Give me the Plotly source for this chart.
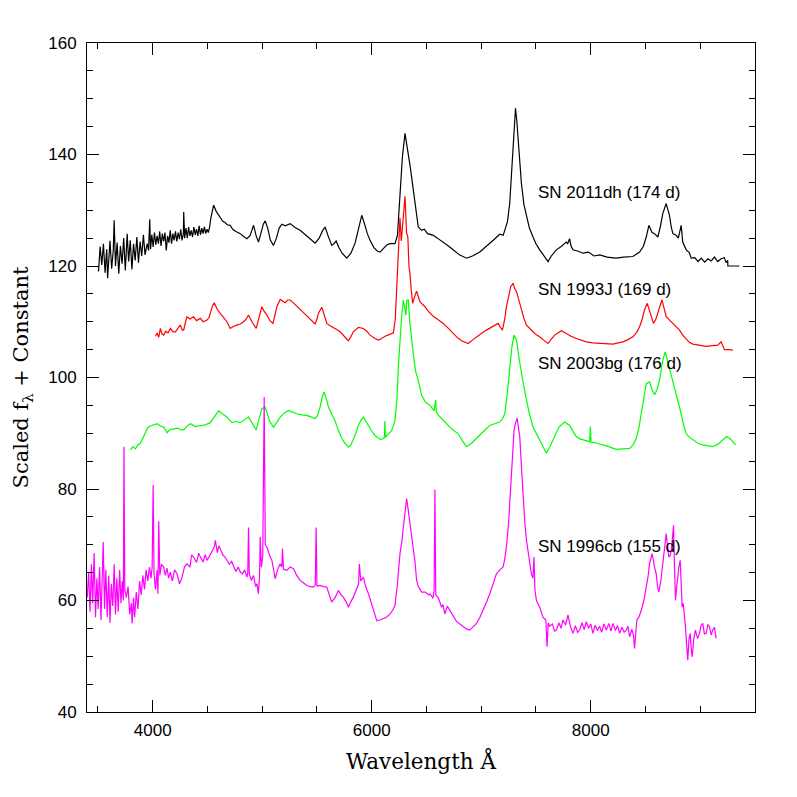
"""
Late-time spectra of stripped-envelope supernovae, offset by a constant.
"""
import plotly.graph_objects as go

# SN 2011dh (174 d)
W_2011DH = [3505, 3520, 3535, 3550, 3565, 3580, 3588, 3595, 3610, 3625, 3640, 3648, 3660, 3675, 3690,
            3705, 3720, 3735, 3750, 3767, 3780, 3795, 3810, 3825, 3840, 3855, 3870, 3885, 3900, 3915,
            3930, 3950, 3962, 3973, 3980, 3992, 4004, 4016, 4028, 4040, 4052, 4064, 4076, 4088, 4100,
            4112, 4124, 4136, 4148, 4160, 4172, 4184, 4196, 4208, 4220, 4232, 4244, 4256, 4268, 4280,
            4283, 4292, 4304, 4316, 4328, 4340, 4352, 4364, 4376, 4388, 4400, 4412, 4424, 4436, 4448,
            4460, 4472, 4484, 4496, 4508, 4520,
            4530, 4556, 4580, 4600, 4617, 4640, 4660, 4680, 4708, 4730, 4760, 4800, 4830, 4860,
            4890, 4921, 4945, 4966, 4990, 5010, 5027, 5050, 5075, 5103, 5130, 5155, 5180, 5210, 5255,
            5300, 5346, 5390, 5437, 5483, 5520, 5550, 5574, 5600, 5635, 5655, 5675, 5700, 5730, 5772,
            5810, 5848, 5880, 5909, 5935, 5960, 5985, 6020, 6050, 6076, 6110, 6140, 6167, 6212, 6235,
            6258, 6280, 6304, 6315, 6334, 6350, 6379, 6410, 6425, 6456, 6480, 6510, 6562, 6600, 6653,
            6700, 6744, 6800, 6866, 6920, 6987, 7030, 7078, 7120, 7169, 7200, 7215, 7240, 7260, 7280,
            7291, 7313, 7325, 7337, 7352, 7367, 7390, 7413, 7440, 7473, 7500, 7534, 7570, 7610, 7640,
            7686, 7730, 7777, 7790, 7807, 7820, 7838, 7880, 7929, 7980, 8030, 8081, 8150, 8233, 8300,
            8385, 8446, 8480, 8507, 8531, 8560, 8583, 8613, 8635, 8658, 8689, 8705, 8719, 8735, 8750,
            8780, 8800, 8826, 8840, 8872, 8900, 8917, 8950, 8980, 9010, 9040, 9070, 9100, 9130, 9160,
            9190, 9220, 9236, 9251, 9252, 9357]
F_2011DH = [119.0, 123.5, 120.2, 124.0, 118.8, 123.0, 117.8, 120.5, 124.5, 119.5, 122.8, 128.2, 120.0,
            124.2, 118.6, 123.6, 120.4, 125.0, 119.2, 125.8, 120.8, 124.6, 119.4, 124.0, 121.0, 125.2,
            120.6, 124.4, 121.8, 125.6, 122.0, 124.0, 122.8, 128.4, 123.0, 125.6, 123.4, 126.0, 123.8,
            125.4, 124.0, 126.2, 123.6, 125.8, 124.4, 126.0, 122.8, 125.4, 124.2, 126.4, 124.0, 125.8,
            124.6, 126.2, 124.4, 126.0, 124.8, 126.6, 124.6, 125.8, 129.7, 125.0, 126.8, 125.0, 127.0,
            125.4, 126.4, 125.2, 127.0, 125.6, 126.6, 125.4, 127.2, 125.6, 126.8, 125.8, 127.0, 125.8,
            126.6, 126.0, 127.0,
            128.5, 130.9, 129.8, 129.2,
            128.8, 128.0, 127.8, 127.4, 127.3, 126.6, 126.2, 125.8, 125.3, 124.9, 125.5, 127.3, 125.4,
            124.3, 126.0, 127.5, 128.1, 126.8, 124.6, 123.7, 125.0, 126.8, 127.5, 127.2, 127.6, 126.9,
            126.4, 125.6, 124.9, 124.1, 125.0, 126.3, 127.0, 125.5, 123.7, 124.0, 124.5, 123.3, 122.3,
            121.4, 122.3, 124.1, 127.0, 129.1, 127.5, 125.8, 124.6, 123.3, 122.7, 122.5, 123.2, 123.8,
            124.0, 124.0, 125.5, 131.8, 139.5, 143.8, 142.5, 140.6, 138.0, 133.8, 128.5, 127.0, 126.4,
            126.6, 125.8, 125.5, 125.0, 124.3, 123.6, 122.9, 122.0, 121.4, 121.8, 122.5, 123.2, 124.1,
            124.8, 125.7, 125.5, 126.4, 128.0, 131.2, 138.0, 142.6, 148.3, 146.0, 142.6, 138.5, 134.8,
            131.0, 128.8, 126.8, 125.2, 124.0, 122.9, 121.8, 120.8, 121.8, 122.9, 123.5, 124.3, 124.0,
            124.9, 123.6, 122.9, 122.7, 122.3, 122.5, 121.8, 122.0, 121.6, 121.4, 121.6, 121.7, 122.5,
            123.5, 125.2, 127.3, 126.0, 125.8, 125.2, 127.0, 129.4, 131.2, 130.0, 129.1, 127.0, 125.8,
            125.5, 125.0, 127.3, 124.3, 122.9, 122.4, 121.4, 121.5, 120.8, 121.4, 120.7, 121.3, 120.9,
            121.6, 120.8, 121.3, 121.5, 120.6, 121.0, 120.0, 120.0]

# SN 1993J (169 d)
W_1993J = [4025, 4040, 4055, 4070, 4085, 4100, 4120, 4140, 4162, 4185, 4207, 4230, 4252, 4270, 4283,
           4300, 4313, 4340, 4374, 4400, 4435, 4460, 4496, 4515, 4526, 4545, 4562, 4590, 4617, 4650,
           4678, 4708, 4740, 4769, 4800, 4830, 4850, 4875, 4906, 4945, 4970, 4997, 5020, 5043, 5070,
           5098, 5120, 5134, 5164, 5190, 5210, 5232, 5255, 5290, 5316, 5360, 5407, 5450, 5483, 5500,
           5513, 5544, 5565, 5590, 5620, 5650, 5680, 5711, 5750, 5787, 5810, 5832, 5878, 5924, 5955,
           5985, 6030, 6061, 6090, 6122, 6160, 6198, 6215, 6228, 6245, 6258, 6270, 6285, 6304, 6318,
           6330, 6340, 6349, 6362, 6374, 6392, 6410, 6440, 6486, 6520, 6562, 6610, 6653, 6700, 6744,
           6780, 6820, 6881, 6920, 6957, 7000, 7048, 7090, 7124, 7154, 7175, 7194, 7215, 7230, 7250,
           7269, 7291, 7305, 7322, 7345, 7367, 7390, 7413, 7440, 7473, 7500, 7534, 7570, 7610, 7640,
           7671, 7700, 7732, 7777, 7820, 7868, 7910, 7960, 8020, 8081, 8140, 8203, 8250, 8294, 8340,
           8385, 8420, 8446, 8470, 8491, 8516, 8530, 8543, 8573, 8595, 8613, 8630, 8650, 8670, 8689,
           8720, 8750, 8780, 8811, 8840, 8872, 8900, 8932, 8990, 9054, 9110, 9160, 9191, 9205, 9221,
           9260, 9297]
F_1993J = [107.4, 108.0, 107.2, 108.8, 107.8, 107.6, 108.3, 108.0, 108.8, 108.2, 108.2, 108.9, 109.4,
           108.5, 108.5, 110.0, 110.9, 110.5, 110.9, 110.2, 110.6, 110.0, 110.3, 110.8, 111.5, 112.8,
           113.4, 112.2, 111.5, 110.6, 110.0, 108.8, 109.2, 109.4, 109.6, 110.0, 110.4, 111.2, 110.0,
           108.8, 110.8, 112.7, 111.8, 111.2, 110.2, 109.7, 111.5, 112.7, 114.0, 113.6, 113.4, 113.9,
           113.9, 113.3, 112.8, 112.0, 111.2, 110.3, 109.6, 110.5, 111.5, 112.6, 111.2, 109.7, 109.3,
           109.0, 108.6, 108.2, 107.4, 106.6, 107.3, 108.2, 109.0, 108.8, 108.3, 107.6, 107.0, 106.7,
           107.0, 107.4, 107.7, 108.0, 110.5, 116.0, 122.0, 128.6, 124.5, 127.5, 132.5, 126.0, 125.2,
           120.0, 118.7, 115.5, 113.3, 114.5, 115.5, 113.6, 112.7, 111.8, 111.0, 110.3, 109.7, 108.8,
           107.9, 107.2, 106.6, 106.1, 106.7, 107.3, 107.9, 108.5, 109.0, 109.4, 109.7, 109.0, 108.5,
           110.5, 112.7, 114.5, 116.3, 116.9, 116.0, 115.4, 113.6, 112.1, 110.6, 109.4, 108.8, 108.2,
           107.7, 107.3, 106.7, 106.1, 106.9, 107.6, 108.0, 108.4, 107.9, 107.4, 107.0, 106.7, 106.4,
           106.2, 106.1, 106.0, 106.0, 106.2, 106.4, 106.8, 107.3, 108.1, 109.1, 110.5, 112.1, 113.3,
           112.4, 111.2, 109.7, 110.5, 111.5, 112.8, 113.9, 112.4, 110.9, 110.3, 109.7, 109.2, 108.5,
           107.6, 106.8, 106.3, 106.0, 105.8, 105.6, 105.7, 105.8, 106.4, 105.6, 105.0, 105.0, 104.9]

# SN 2003bg (176 d)
W_2003BG = [3797, 3820, 3842, 3865, 3888, 3910, 3934, 3955, 3979, 4010, 4040, 4070, 4100, 4131, 4160,
            4192, 4230, 4260, 4283, 4315, 4344, 4390, 4435, 4480, 4526, 4560, 4602, 4640, 4678, 4723,
            4760, 4800, 4840, 4875, 4906, 4945, 4970, 4997, 5027, 5067, 5103, 5130, 5164, 5200, 5240,
            5280, 5316, 5360, 5407, 5450, 5483, 5505, 5529, 5548, 5565, 5585, 5605, 5635, 5665, 5695,
            5726, 5755, 5787, 5810, 5832, 5855, 5878, 5900, 5924, 5945, 5970, 6000, 6030, 6076, 6100,
            6115, 6120, 6125, 6150, 6182, 6212, 6230, 6243, 6258, 6273, 6289, 6300, 6313, 6319, 6334,
            6349, 6364, 6379, 6400, 6425, 6456, 6490, 6532, 6570, 6584, 6590, 6620, 6653, 6680, 6714,
            6750, 6790, 6830, 6866, 6911, 6950, 6987, 7030, 7078, 7120, 7169, 7195, 7215, 7240, 7260,
            7280, 7300, 7322, 7345, 7367, 7390, 7413, 7440, 7473, 7500, 7534, 7565, 7595, 7625, 7656,
            7685, 7710, 7762, 7807, 7840, 7868, 7900, 7929, 7990, 7997, 8003, 8040, 8081, 8150, 8233,
            8300, 8355, 8390, 8416, 8440, 8461, 8485, 8507, 8537, 8560, 8583, 8605, 8628, 8658, 8680,
            8713, 8740, 8765, 8795, 8826, 8850, 8872, 8900, 8932, 8980, 9023, 9070, 9114, 9160, 9205,
            9240, 9266, 9295, 9321]
F_2003BG = [87.0, 87.6, 87.2, 87.9, 88.2, 89.2, 90.3, 91.0, 91.3, 91.5, 91.7, 91.3, 91.1, 90.1, 90.7,
            90.8, 90.9, 90.6, 90.6, 91.3, 91.7, 91.2, 91.4, 91.5, 91.9, 92.8, 94.0, 93.4, 92.9, 91.9,
            92.1, 91.9, 92.4, 92.9, 91.9, 90.6, 92.5, 94.4, 94.7, 92.2, 91.1, 91.9, 92.9, 93.6, 94.1,
            93.8, 93.5, 93.3, 93.2, 92.9, 92.6, 93.2, 94.7, 96.5, 97.4, 96.2, 94.7, 93.4, 92.2, 90.6,
            89.1, 88.2, 87.5, 87.9, 88.8, 90.0, 91.4, 92.3, 92.9, 92.3, 91.4, 90.4, 89.6, 88.9, 89.0,
            89.2, 92.2, 89.3, 89.8, 90.5, 92.2, 96.0, 101.9, 107.0, 110.9, 113.9, 112.5, 111.2, 113.8,
            113.9, 109.7, 106.7, 104.3, 101.2, 99.5, 96.8, 95.6, 95.0, 94.0, 96.0, 93.8, 93.0, 92.3,
            91.8, 91.1, 90.5, 89.9, 88.6, 87.6, 88.2, 88.9, 89.6, 90.5, 91.4, 91.7, 92.0, 92.6, 93.5,
            97.5, 101.9, 105.5, 107.6, 106.7, 103.5, 100.7, 98.3, 96.0, 93.5, 91.1, 90.0, 88.8, 87.6,
            86.4, 87.5, 88.8, 90.0, 91.1, 92.0, 91.4, 90.3, 89.4, 89.0, 88.8, 88.5, 91.2, 88.4, 88.3,
            88.1, 87.7, 87.1, 87.2, 87.3, 88.0, 89.1, 91.0, 93.5, 96.5, 98.9, 99.2, 97.8, 96.9, 97.8,
            99.5, 103.1, 104.6, 102.2, 100.0, 98.3, 95.8, 93.5, 91.3, 89.9, 89.3, 88.9, 88.2, 87.9,
            87.7, 87.6, 88.0, 88.8, 89.4, 89.1, 88.6, 87.9]

# SN 1996cb (155 d)
W_1996CB = [3402, 3415, 3428, 3440, 3452, 3465, 3478, 3490, 3502, 3515, 3528, 3540, 3548, 3560, 3572,
            3585, 3598, 3610, 3622, 3635, 3648, 3660, 3672, 3685, 3698, 3710, 3722, 3732, 3738, 3745,
            3760, 3775, 3790, 3805, 3812, 3825, 3835, 3850, 3865, 3880, 3895, 3910, 3925, 3940, 3955,
            3970, 3985, 3995, 4004, 4012, 4025, 4040, 4048, 4055, 4065, 4080, 4100, 4115, 4130, 4145,
            4161, 4180, 4200, 4222, 4245, 4268, 4290, 4313, 4340, 4355, 4374, 4400, 4420, 4435, 4460,
            4480, 4496, 4520, 4541, 4560, 4572, 4590, 4605, 4617, 4640, 4660, 4678, 4700, 4720, 4739,
            4760, 4780, 4800, 4820, 4840, 4860, 4868, 4875, 4882, 4900, 4920, 4940, 4952, 4965, 4975,
            4982, 4992, 5005, 5018, 5028, 5043, 5065, 5088, 5105, 5118, 5140, 5164, 5180, 5185, 5195,
            5225, 5255, 5286, 5315, 5346, 5375, 5407, 5440, 5468, 5485, 5492, 5500, 5529, 5560, 5590,
            5612, 5635, 5665, 5696, 5720, 5741, 5765, 5787, 5810, 5832, 5863, 5880, 5887, 5900, 5924,
            5945, 5970, 5995, 6015, 6046, 6075, 6106, 6135, 6167, 6190, 6212, 6235, 6258, 6275, 6289,
            6305, 6319, 6335, 6349, 6364, 6379, 6395, 6410, 6425, 6456, 6490, 6520, 6532, 6560, 6570,
            6577, 6585, 6608, 6625, 6638, 6650, 6668, 6690, 6714, 6745, 6775, 6805, 6836, 6865, 6896,
            6925, 6957, 6988, 7018, 7048, 7078, 7110, 7139, 7170, 7200, 7215, 7230, 7250, 7267, 7285,
            7300, 7315, 7328, 7340, 7352, 7367, 7382, 7398, 7413, 7435, 7458, 7472, 7482, 7490, 7504,
            7534, 7564, 7590, 7601, 7612, 7625, 7650, 7670, 7686, 7710, 7728, 7747, 7770, 7792, 7815,
            7838, 7860, 7880, 7899, 7920, 7940, 7960, 7980, 8000, 8020, 8040, 8060, 8081, 8100, 8120,
            8142, 8165, 8185, 8203, 8225, 8245, 8263, 8285, 8305, 8324, 8340, 8355, 8375, 8390, 8400,
            8410, 8421, 8440, 8461, 8485, 8507, 8525, 8537, 8561, 8580, 8598, 8610, 8622, 8640, 8658,
            8675, 8689, 8700, 8713, 8725, 8735, 8745, 8756, 8765, 8774, 8785, 8795, 8805, 8817, 8826,
            8835, 8845, 8856, 8866, 8876, 8886, 8897, 8908, 8917, 8926, 8940, 8956, 8975, 8993, 9008,
            9023, 9038, 9054, 9070, 9084, 9100, 9114, 9130, 9145]
F_1996CB = [60.5, 65.0, 58.0, 66.5, 59.5, 68.5, 57.0, 64.0, 58.5, 66.0, 56.5, 63.5, 70.5, 58.5, 65.5,
            57.0, 64.5, 56.0, 63.0, 59.0, 66.5, 57.5, 64.0, 58.0, 65.5, 59.5, 63.5, 60.0, 87.6, 62.0,
            60.5, 62.5, 57.5, 59.5, 55.9, 60.5, 57.0, 61.5, 58.5, 63.5, 61.0, 64.5, 62.0, 65.5, 63.5,
            66.0, 64.0, 66.0, 80.7, 65.0, 62.0, 65.4, 61.2, 74.2, 64.5, 66.5, 66.0, 64.5, 65.8, 64.0,
            65.1, 63.5, 65.5, 64.8, 63.0, 64.2, 66.0, 66.6, 66.0, 68.2, 67.8, 66.8, 68.5, 67.8, 66.9,
            68.2, 67.2, 68.0, 68.7, 69.5, 70.8, 68.6, 69.8, 69.3, 68.2, 67.8, 67.2, 66.5, 67.0, 66.0,
            65.2, 66.0, 65.1, 64.8, 65.5, 64.2, 65.0, 73.1, 64.8, 63.6, 64.5, 62.5, 63.0, 61.2, 64.0,
            71.4, 66.0, 68.0, 96.5, 70.0, 69.6, 68.2, 67.2, 65.5, 63.9, 65.5, 66.6, 66.0, 69.3, 65.6,
            65.4, 66.0, 65.7, 64.5, 63.6, 63.2, 62.7, 62.5, 62.4, 62.8, 73.1, 62.6, 62.7, 62.5, 62.4,
            61.0, 59.7, 60.5, 61.8, 61.0, 60.6, 59.8, 58.8, 59.8, 60.6, 62.1, 63.0, 66.6, 63.5, 64.2,
            62.5, 61.2, 59.5, 58.2, 56.4, 56.5, 56.7, 57.0, 57.6, 58.2, 59.1, 63.0, 68.4, 70.5, 73.2,
            76.5, 78.3, 76.0, 73.8, 71.0, 69.6, 67.0, 63.6, 62.5, 61.5, 61.5, 61.0, 61.2, 60.4, 62.0,
            79.9, 61.0, 60.5, 59.5, 58.8, 59.3, 57.6, 59.0, 58.2, 57.2, 56.2, 55.8, 55.4, 54.9, 54.7,
            55.2, 55.9, 57.0, 58.2, 59.7, 61.2, 63.0, 64.8, 65.5, 66.0, 67.5, 69.6, 74.0, 79.2, 86.0,
            90.6, 92.0, 92.7, 91.0, 89.4, 84.0, 78.6, 74.0, 70.8, 67.5, 64.8, 64.0, 67.8, 62.0, 60.0,
            58.8, 57.0, 56.5, 51.7, 56.0, 55.4, 55.8, 54.5, 54.7, 56.0, 55.0, 56.5, 55.6, 57.4, 55.3,
            54.1, 55.5, 54.3, 54.7, 56.0, 54.8, 56.2, 55.0, 55.8, 54.1, 55.6, 54.6, 55.4, 54.3, 55.8,
            54.7, 55.9, 54.5, 55.9, 54.6, 55.5, 54.1, 55.2, 54.3, 54.7, 55.4, 53.5, 54.8, 53.8, 51.4,
            54.0, 56.5, 57.0, 58.2, 60.0, 62.4, 64.5, 66.6, 68.4, 66.2, 64.8, 62.5, 61.5, 63.5, 66.6,
            69.5, 72.0, 70.0, 67.8, 68.0, 69.0, 71.0, 73.5, 66.0, 60.0, 62.5, 64.8, 66.0, 67.2, 62.0,
            58.8, 59.5, 57.6, 55.0, 52.0, 49.3, 53.0, 54.1, 51.5, 49.9, 53.0, 54.7, 53.2, 54.1, 55.5,
            55.9, 54.0, 54.1, 55.7, 55.3, 53.8, 54.7, 55.2, 53.2]

LABELS = ['SN 2011dh (174 d)', 'SN 1993J (169 d)', 'SN 2003bg (176 d)', 'SN 1996cb (155 d)']
LABEL_X = [7500, 7500, 7500, 7500]
LABEL_Y = [133.1, 115.7, 102.6, 69.7]

SERIES = [
    (W_2011DH, F_2011DH, 'black'),
    (W_1993J, F_1993J, '#ff0000'),
    (W_2003BG, F_2003BG, '#00ff00'),
    (W_1996CB, F_1996CB, '#ff00ff'),
]

fig = go.Figure()
for (w, f, color), name in zip(SERIES, LABELS):
    fig.add_trace(go.Scatter(x=w, y=f, mode='lines', name=name,
                             line=dict(color=color, width=1.2)))

for text, lx, ly in zip(LABELS, LABEL_X, LABEL_Y):
    fig.add_annotation(x=lx, y=ly, text=text, showarrow=False,
                       xanchor='left', yanchor='middle',
                       font=dict(family='Liberation Sans', size=17, color='black'))

axis_common = dict(
    showline=True, linecolor='black', linewidth=1, mirror='ticks',
    ticks='inside', ticklen=12, tickwidth=1, tickcolor='black',
    showgrid=False, zeroline=False,
    tickfont=dict(family='Liberation Sans', size=17, color='black'),
)

fig.update_xaxes(
    range=[3400, 9500], tick0=0, dtick=2000,
    minor=dict(dtick=500, ticklen=6, tickcolor='black', ticks='inside', showgrid=False),
    ticklabelstandoff=3,
    title=dict(text='Wavelength Å', standoff=14,
               font=dict(family='DejaVu Serif', size=21.5, color='black')),
    **axis_common,
)
fig.update_yaxes(
    range=[40, 160], tick0=0, dtick=20,
    minor=dict(dtick=5, ticklen=6, tickcolor='black', ticks='inside', showgrid=False),
    ticklabelstandoff=6,
    title=dict(text='Scaled f<sub>λ</sub> + Constant', standoff=13,
               font=dict(family='DejaVu Serif', size=21, color='black')),
    **axis_common,
)

# the page body adds an 8 px margin, so the figure is sized to fit inside it
fig.update_layout(
    width=781, height=781,
    margin=dict(l=79, r=34, t=35, b=77),
    paper_bgcolor='white', plot_bgcolor='white',
    showlegend=False,
)

fig.write_html('out.html')
